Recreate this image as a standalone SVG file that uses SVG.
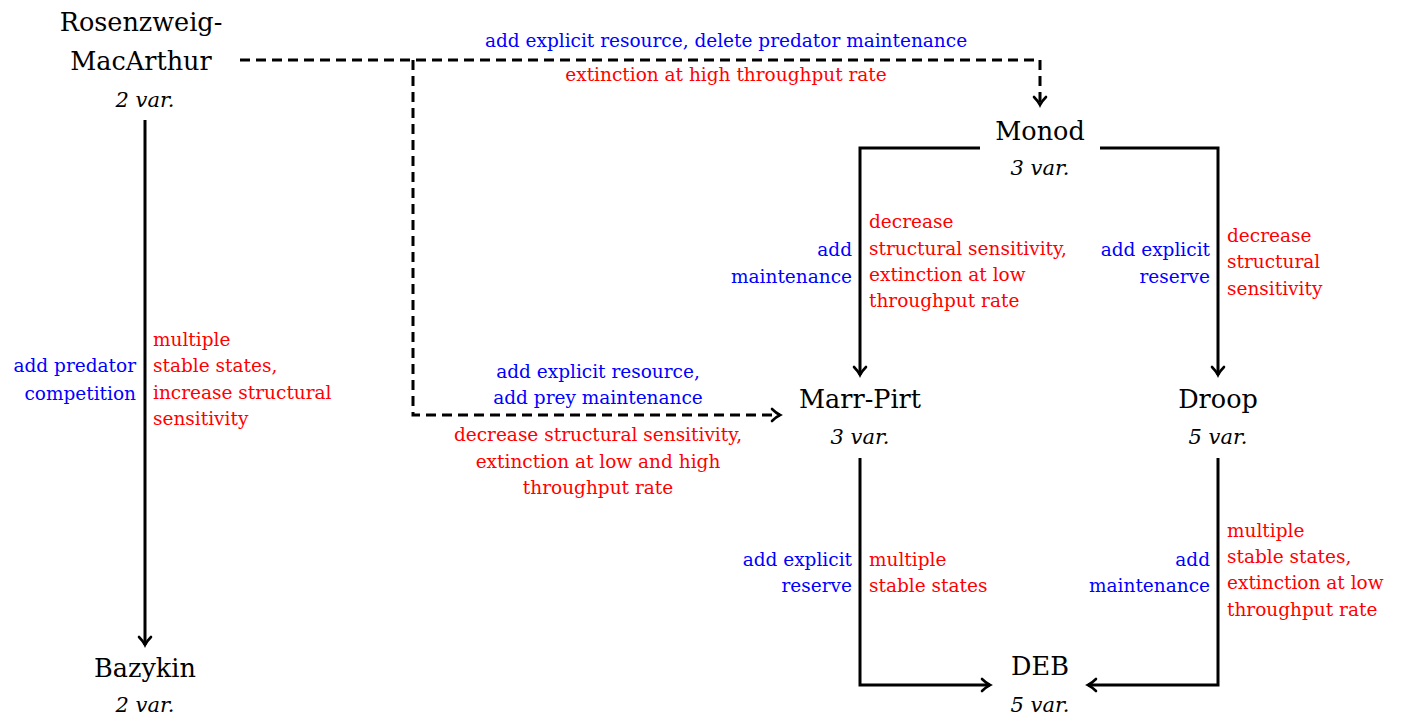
<svg xmlns="http://www.w3.org/2000/svg" width="1405" height="718" viewBox="0 0 1405 718">
<defs>
<marker id="arr" markerWidth="16" markerHeight="16" refX="11" refY="8" orient="auto" markerUnits="userSpaceOnUse">
<path d="M3,2 Q7,6 11,8 Q7,10 3,14" fill="none" stroke="#000" stroke-width="2.6" stroke-linecap="round"/>
</marker>
</defs>
<style>
text{font-family:"DejaVu Serif","Liberation Serif",serif;}
.name{font-size:25.5px;fill:#000;text-anchor:middle;}
.var{font-size:21px;font-style:italic;fill:#000;text-anchor:middle;}
.b{font-size:18.5px;fill:#0000ff;}
.r{font-size:18.5px;fill:#ff0000;}
.e{text-anchor:end;}
.m{text-anchor:middle;}
.ln{fill:none;stroke:#000;stroke-width:3;}
.d{stroke-dasharray:10 6;}
</style>
<rect width="1405" height="718" fill="#fff"/>
<g id="connectors">
<path class="ln d" d="M240,60 H1040 V105" marker-end="url(#arr)"/>
<path class="ln d" d="M413,60 V415 H780" marker-end="url(#arr)"/>
<path class="ln" d="M145,120 V645" marker-end="url(#arr)"/>
<path class="ln" d="M980,148 H860 V375" marker-end="url(#arr)"/>
<path class="ln" d="M1100,148 H1218 V375" marker-end="url(#arr)"/>
<path class="ln" d="M860,458 V685 H990" marker-end="url(#arr)"/>
<path class="ln" d="M1218,458 V685 H1088" marker-end="url(#arr)"/>
</g>
<g id="labels">
<text class="b m" x="726" y="47">add explicit resource, delete predator maintenance</text>
<text class="r m" x="726" y="81">extinction at high throughput rate</text>
<text class="b e" x="136" y="372">add predator</text>
<text class="b e" x="136" y="400">competition</text>
<text class="r" x="153" y="346">multiple</text>
<text class="r" x="153" y="372">stable states,</text>
<text class="r" x="153" y="399">increase structural</text>
<text class="r" x="153" y="425">sensitivity</text>
<text class="b m" x="598" y="378">add explicit resource,</text>
<text class="b m" x="598" y="404">add prey maintenance</text>
<text class="r m" x="598" y="441">decrease structural sensitivity,</text>
<text class="r m" x="598" y="468">extinction at low and high</text>
<text class="r m" x="598" y="494">throughput rate</text>
<text class="b e" x="852" y="256">add</text>
<text class="b e" x="852" y="283">maintenance</text>
<text class="r" x="869" y="228">decrease</text>
<text class="r" x="869" y="255">structural sensitivity,</text>
<text class="r" x="869" y="281">extinction at low</text>
<text class="r" x="869" y="307">throughput rate</text>
<text class="b e" x="1210" y="256">add explicit</text>
<text class="b e" x="1210" y="283">reserve</text>
<text class="r" x="1227" y="242">decrease</text>
<text class="r" x="1227" y="268">structural</text>
<text class="r" x="1227" y="295">sensitivity</text>
<text class="b e" x="852" y="566">add explicit</text>
<text class="b e" x="852" y="592">reserve</text>
<text class="r" x="869" y="566">multiple</text>
<text class="r" x="869" y="592">stable states</text>
<text class="b e" x="1210" y="566">add</text>
<text class="b e" x="1210" y="592">maintenance</text>
<text class="r" x="1227" y="537">multiple</text>
<text class="r" x="1227" y="563">stable states,</text>
<text class="r" x="1227" y="589">extinction at low</text>
<text class="r" x="1227" y="616">throughput rate</text>
</g>
<g id="rosenzweig">
<text class="name" x="141" y="31">Rosenzweig-</text>
<text class="name" x="141" y="70">MacArthur</text>
<text class="var" x="145" y="107">2 var.</text>
</g>
<g id="bazykin">
<text class="name" x="145" y="677">Bazykin</text>
<text class="var" x="145" y="712">2 var.</text>
</g>
<g id="monod">
<text class="name" x="1040" y="140">Monod</text>
<text class="var" x="1040" y="175">3 var.</text>
</g>
<g id="marrpirt">
<text class="name" x="860" y="408">Marr-Pirt</text>
<text class="var" x="860" y="444">3 var.</text>
</g>
<g id="droop">
<text class="name" x="1218" y="408">Droop</text>
<text class="var" x="1218" y="444">5 var.</text>
</g>
<g id="deb">
<text class="name" x="1040" y="675">DEB</text>
<text class="var" x="1040" y="712">5 var.</text>
</g>
</svg>
